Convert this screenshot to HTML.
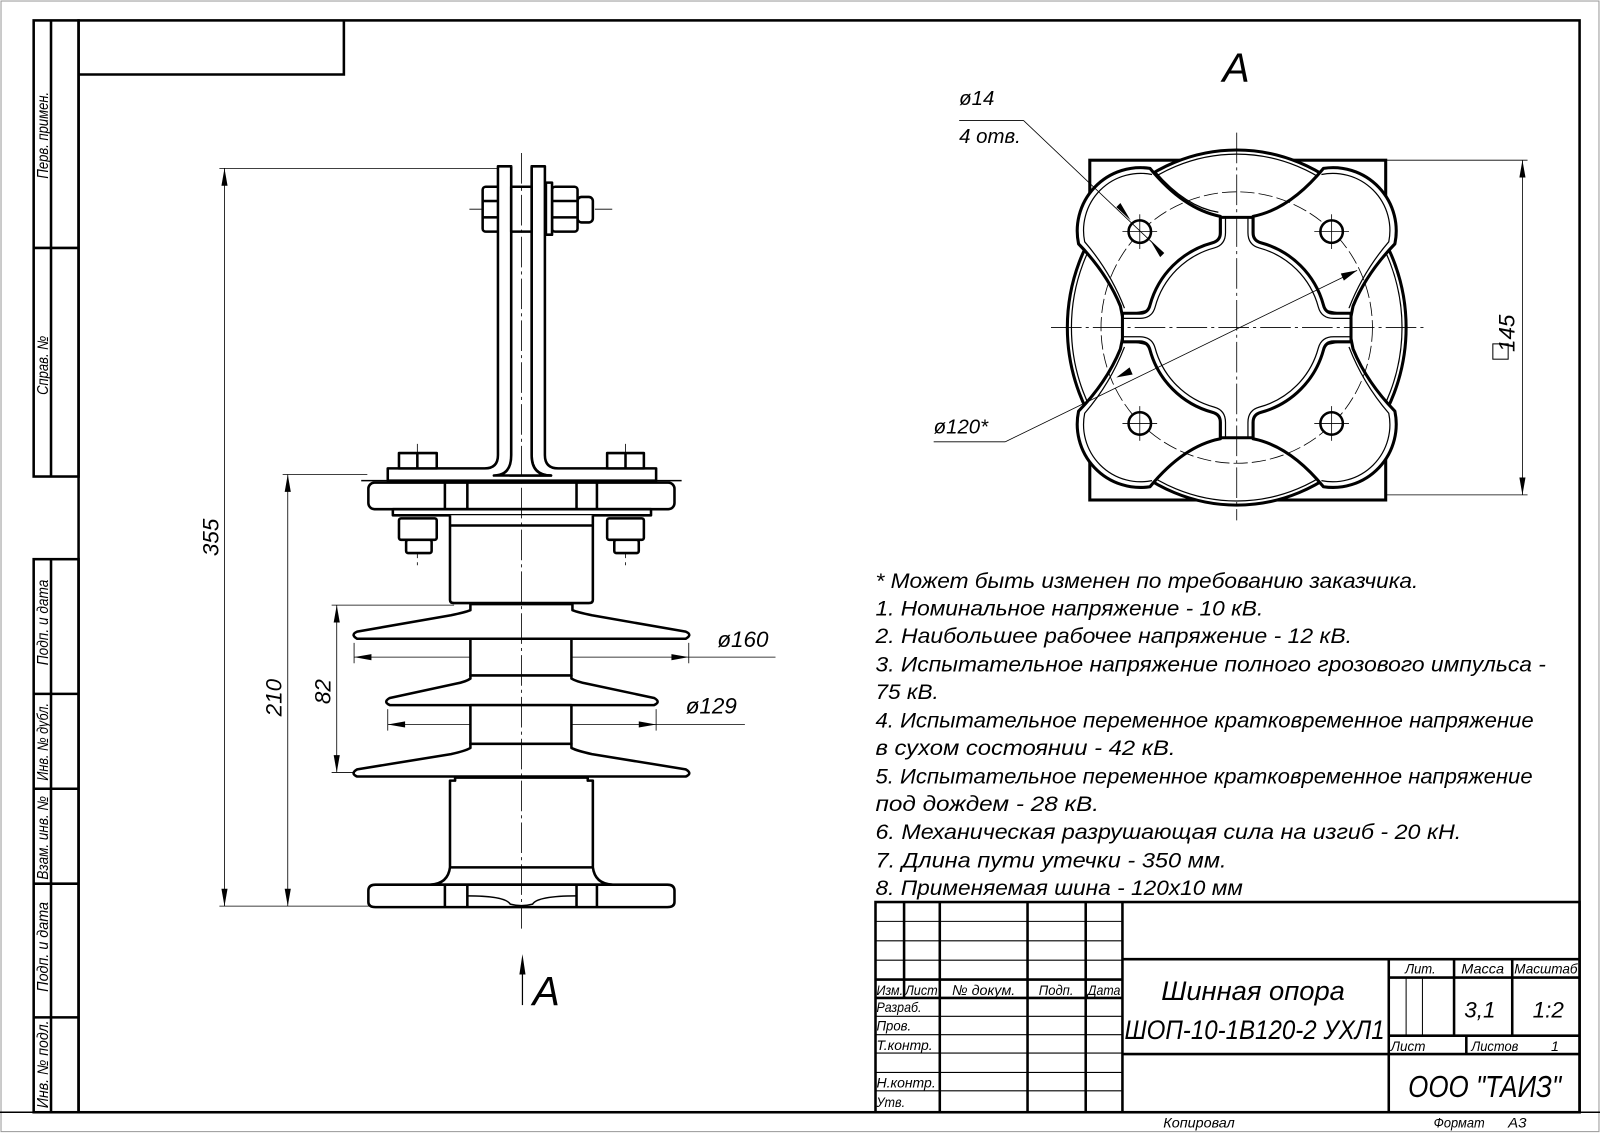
<!DOCTYPE html>
<html><head><meta charset="utf-8"><style>
html,body{margin:0;padding:0;background:#fff}
svg{display:block}
text{font-family:"Liberation Sans",sans-serif;font-style:italic;fill:#000}
</style></head><body>
<svg width="1600" height="1133" viewBox="0 0 1600 1133" xmlns="http://www.w3.org/2000/svg">
<rect x="0" y="0" width="1600" height="1133" fill="#fff"/>
<g transform="scale(1.0204)">
<rect x="1" y="1" width="1566" height="1108" fill="none" stroke="#999" stroke-width="1"/>
<!-- main frame -->
<g fill="none" stroke="#000" stroke-width="2.5">
<rect x="77" y="20" width="1471" height="1070"/>
<polyline points="77,73 337,73 337,20"/>
<rect x="33" y="20" width="44" height="447"/>
<line x1="50" y1="20" x2="50" y2="467"/>
<line x1="33" y1="243" x2="77" y2="243"/>
<rect x="33" y="548" width="44" height="542"/>
<line x1="50" y1="548" x2="50" y2="1090"/>
<line x1="33" y1="680" x2="77" y2="680"/>
<line x1="33" y1="773" x2="77" y2="773"/>
<line x1="33" y1="866" x2="77" y2="866"/>
<line x1="33" y1="997" x2="77" y2="997"/>
</g>
<g font-size="15">
<text transform="translate(47,175) rotate(-90)" textLength="85" lengthAdjust="spacingAndGlyphs">Перв. примен.</text>
<text transform="translate(47,387) rotate(-90)" textLength="58" lengthAdjust="spacingAndGlyphs">Справ. №</text>
<text transform="translate(47,652) rotate(-90)" textLength="84" lengthAdjust="spacingAndGlyphs">Подп. и дата</text>
<text transform="translate(47,765) rotate(-90)" textLength="76" lengthAdjust="spacingAndGlyphs">Инв. № дубл.</text>
<text transform="translate(47,862) rotate(-90)" textLength="82" lengthAdjust="spacingAndGlyphs">Взам. инв. №</text>
<text transform="translate(47,972) rotate(-90)" textLength="88" lengthAdjust="spacingAndGlyphs">Подп. и дата</text>
<text transform="translate(47,1086) rotate(-90)" textLength="86" lengthAdjust="spacingAndGlyphs">Инв. № подл.</text>
</g>

<!-- LEFT VIEW -->
<g fill="none" stroke="#000" stroke-width="0.8" stroke-dasharray="30,4,3,4">
<line x1="409" y1="435" x2="409" y2="555"/>
<line x1="613" y1="435" x2="613" y2="555"/>
<line x1="460" y1="205" x2="600" y2="205"/>
</g>
<g fill="none" stroke="#000" stroke-width="0.8">
<line x1="215" y1="165" x2="490" y2="165"/>
<line x1="215" y1="888" x2="366" y2="888"/>
<line x1="220" y1="165" x2="220" y2="888"/>
<line x1="277" y1="465" x2="360" y2="465"/>
<line x1="282" y1="465" x2="282" y2="888"/>
<line x1="325" y1="593" x2="445" y2="593"/>
<line x1="325" y1="757" x2="350" y2="757"/>
<line x1="330" y1="593" x2="330" y2="757"/>
<line x1="347" y1="630" x2="347" y2="650"/>
<line x1="675" y1="630" x2="675" y2="650"/>
<line x1="347" y1="644" x2="760" y2="644"/>
<line x1="380" y1="695" x2="380" y2="716"/>
<line x1="643" y1="695" x2="643" y2="716"/>
<line x1="380" y1="710" x2="730" y2="710"/>
</g>
<g fill="#000" stroke="none">
<polygon points="220,165 217,182 223,182"/><polygon points="220,888 217,871 223,871"/>
<polygon points="282,465 279,482 285,482"/><polygon points="282,888 279,871 285,871"/>
<polygon points="330,593 327,610 333,610"/><polygon points="330,757 327,740 333,740"/>
<polygon points="347,644 364,641 364,647"/><polygon points="675,644 658,641 658,647"/>
<polygon points="380,710 397,707 397,713"/><polygon points="643,710 626,707 626,713"/>
</g>
<g font-size="22">
<text transform="translate(214,545) rotate(-90)">355</text>
<text transform="translate(276,702) rotate(-90)">210</text>
<text transform="translate(324,690) rotate(-90)">82</text>
<text x="703" y="634">ø160</text>
<text x="672" y="699">ø129</text>
</g>
<g fill="#fff" stroke="#000" stroke-width="2.5" stroke-linejoin="round">
<rect x="473" y="183" width="28" height="44" rx="3"/>
<line x1="473" y1="197" x2="488" y2="197"/><line x1="473" y1="213" x2="488" y2="213"/>
<rect x="566" y="193" width="15" height="25" rx="4"/>
<rect x="541" y="183" width="25" height="44" rx="3"/>
<line x1="541" y1="197" x2="566" y2="197"/><line x1="541" y1="213" x2="566" y2="213"/>
<rect x="535" y="179" width="6" height="51"/>
<path d="M488,163 L488,446 Q488,459 475,459 L380,459 L380,471 L643,471 L643,459 L547,459 Q534,459 534,446 L534,163 L521,163 L521,446 Q521,466 540,466 L500,466 Q501,460 501,446 L501,163 Z"/>
<path d="M501,163 L501,446 Q501,466 484,466 L540,466 Q521,466 521,446 L521,163" fill="#fff"/>
<rect x="501" y="183" width="20" height="44"/>
<rect x="391" y="444" width="37" height="15"/><line x1="409" y1="444" x2="409" y2="459"/>
<rect x="595" y="444" width="36" height="15"/><line x1="613" y1="444" x2="613" y2="459"/>
<line x1="354" y1="471" x2="668" y2="471" stroke-width="1.5"/>
<rect x="361" y="473" width="300" height="26" rx="6"/>
<line x1="436" y1="473" x2="436" y2="499"/><line x1="458" y1="473" x2="458" y2="499"/>
<line x1="565" y1="473" x2="565" y2="499"/><line x1="585" y1="473" x2="585" y2="499"/>
<rect x="385" y="499" width="253" height="6"/>
<rect x="391" y="508" width="37" height="21" rx="2"/><rect x="398" y="529" width="25" height="13" rx="2"/>
<rect x="595" y="508" width="36" height="21" rx="2"/><rect x="602" y="529" width="24" height="13" rx="2"/>
<path d="M441,505 L441,588 Q441,591 445,591 L577,591 Q581,591 581,588 L581,505"/>
<line x1="441" y1="515" x2="581" y2="515"/>
<path d="M461,592 L561,592 L561,598 Q566,600 580,603 L672,619 Q679,622 672,626 L350,626 Q343,622 350,619 L442,603 Q456,600 461,598 Z"/>
<rect x="461" y="626" width="99" height="36"/>
<path d="M461,662 L560,662 L560,665 Q565,668 575,670 L641,684 Q648,688 641,691 L382,691 Q375,688 382,684 L447,670 Q457,668 461,665 Z"/>
<rect x="461" y="691" width="99" height="38"/>
<path d="M461,729 L560,729 L560,733 Q566,736 580,739 L672,754 Q679,758 672,761 L350,761 Q343,758 350,754 L442,739 Q456,736 461,733 Z"/>
<path d="M446,762 L576,762 L576,765 L581,765 L581,850 Q583,866 600,867 L422,867 Q439,866 441,850 L441,765 L446,765 Z"/>
<line x1="441" y1="850" x2="581" y2="850"/>
<path d="M361,873 Q361,867 368,867 L654,867 Q661,867 661,873 L661,884 Q661,889 654,889 L368,889 Q361,889 361,884 Z"/>
<line x1="436" y1="867" x2="436" y2="889"/><line x1="458" y1="867" x2="458" y2="889"/>
<line x1="565" y1="867" x2="565" y2="889"/><line x1="585" y1="867" x2="585" y2="889"/>
<path d="M458,878 Q495,878 500,886 Q511,889 522,886 Q527,878 565,878" fill="none" stroke-width="1.5"/>
</g>
<line x1="511" y1="150" x2="511" y2="910" stroke="#000" stroke-width="0.8" stroke-dasharray="30,4,3,4"/>
<line x1="512" y1="945" x2="512" y2="985" stroke="#000" stroke-width="1.2"/>
<polygon points="512,935 509,955 515,955" fill="#000"/>
<text x="522" y="985" font-size="40" font-style="normal">A</text>

<!-- RIGHT VIEW -->
<text x="1198" y="80" font-size="40" font-style="normal">A</text>
<g fill="none" stroke="#000" stroke-width="0.8">
<line x1="1358" y1="157" x2="1497" y2="157"/>
<line x1="1358" y1="485" x2="1497" y2="485"/>
<line x1="1492" y1="157" x2="1492" y2="485"/>
<line x1="940" y1="118" x2="1003" y2="118"/>
<line x1="915" y1="433" x2="985" y2="433"/>
</g>
<g fill="#000">
<polygon points="1492,157 1489,174 1495,174"/><polygon points="1492,485 1489,468 1495,468"/>
</g>
<text transform="translate(1484,345) rotate(-90)" font-size="22">145</text>
<rect x="1463" y="337" width="15" height="15" fill="none" stroke="#000" stroke-width="1"/>
<text x="940" y="103" font-size="20">ø14</text>
<text x="940" y="140" font-size="20">4 отв.</text>
<text x="915" y="425" font-size="20">ø120*</text>

<g fill="none" stroke="#000" stroke-width="3">
<rect x="1068" y="157" width="290" height="333" fill="#fff"/>
<ellipse cx="1212" cy="321" rx="166" ry="174" fill="#fff"/>
<ellipse cx="1212" cy="321" rx="162" ry="170" stroke-width="1.2"/>
</g>
<!-- lens inner arcs top/bottom -->
<g fill="none" stroke="#000" stroke-width="3">
<path d="M1194,212 Q1212,220 1230,212"/>
<path d="M1194,430 Q1212,422 1230,430"/>
</g>
<!-- corner lobes -->
<g id="lobe" fill="#fff" stroke="#000" stroke-width="3" stroke-linejoin="round">
<path d="M1127,165 A62,62 0 0 0 1057,239 Q1085,268 1098,300 L1100,310 L1150,300 L1196,240 L1196,212 Q1160,205 1127,165 Z"/>
<path d="M1129,171 A56,56 0 0 0 1063,237 Q1088,266 1102,302" fill="none" stroke-width="1.2"/>
<path d="M1132,168 Q1162,203 1194,208" fill="none" stroke-width="1.2"/>
</g>
<g transform="translate(2424,0) scale(-1,1)">
<path d="M1127,165 A62,62 0 0 0 1057,239 Q1085,268 1098,300 L1100,310 L1150,300 L1196,240 L1196,212 Q1160,205 1127,165 Z" fill="#fff" stroke="#000" stroke-width="3" stroke-linejoin="round"/>
<path d="M1129,171 A56,56 0 0 0 1063,237 Q1088,266 1102,302" fill="none" stroke="#000" stroke-width="1.2"/>
</g>
<g transform="translate(0,642) scale(1,-1)">
<path d="M1127,165 A62,62 0 0 0 1057,239 Q1085,268 1098,300 L1100,310 L1150,300 L1196,240 L1196,212 Q1160,205 1127,165 Z" fill="#fff" stroke="#000" stroke-width="3" stroke-linejoin="round"/>
<path d="M1129,171 A56,56 0 0 0 1063,237 Q1088,266 1102,302" fill="none" stroke="#000" stroke-width="1.2"/>
</g>
<g transform="translate(2424,642) scale(-1,-1)">
<path d="M1127,165 A62,62 0 0 0 1057,239 Q1085,268 1098,300 L1100,310 L1150,300 L1196,240 L1196,212 Q1160,205 1127,165 Z" fill="#fff" stroke="#000" stroke-width="3" stroke-linejoin="round"/>
<path d="M1129,171 A56,56 0 0 0 1063,237 Q1088,266 1102,302" fill="none" stroke="#000" stroke-width="1.2"/>
</g>
<!-- central region -->
<g fill="#fff" stroke="#000" stroke-width="3">
<path d="M1196,213 L1196,228 Q1196,236 1188,238 A87,87 0 0 0 1127,299 Q1125,307 1117,307 L1100,307 L1100,335 L1117,335 Q1125,335 1127,343 A87,87 0 0 0 1188,404 Q1196,406 1196,414 L1196,429 L1228,429 L1228,414 Q1228,406 1236,404 A87,87 0 0 0 1297,343 Q1299,335 1307,335 L1324,335 L1324,307 L1307,307 Q1299,307 1297,299 A87,87 0 0 0 1236,238 Q1228,236 1228,228 L1228,213 Z"/>
</g>
<g fill="none" stroke="#000" stroke-width="1.2">
<path d="M1201,213 L1201,228 Q1201,240 1190,243 A82,82 0 0 0 1132,301 Q1129,312 1117,312 L1100,312"/>
<path d="M1223,213 L1223,228 Q1223,240 1234,243 A82,82 0 0 1 1292,301 Q1295,312 1307,312 L1324,312"/>
<path d="M1201,429 L1201,414 Q1201,402 1190,399 A82,82 0 0 1 1132,341 Q1129,330 1117,330 L1100,330"/>
<path d="M1223,429 L1223,414 Q1223,402 1234,399 A82,82 0 0 0 1292,341 Q1295,330 1307,330 L1324,330"/>
<circle cx="1212" cy="321" r="133" stroke-dasharray="14,4" stroke-width="0.8"/>
</g>
<g fill="#fff" stroke="#000" stroke-width="2.5">
<circle cx="1117" cy="227" r="11"/><circle cx="1305" cy="227" r="11"/>
<circle cx="1117" cy="415" r="11"/><circle cx="1305" cy="415" r="11"/>
</g>
<g stroke="#000" stroke-width="0.8" stroke-dasharray="30,4,3,4">
<line x1="1212" y1="130" x2="1212" y2="510"/>
<line x1="1030" y1="321" x2="1395" y2="321"/>
</g>
<g stroke="#000" stroke-width="0.8">
<line x1="1100" y1="227" x2="1134" y2="227"/><line x1="1117" y1="210" x2="1117" y2="244"/>
<line x1="1288" y1="227" x2="1322" y2="227"/><line x1="1305" y1="210" x2="1305" y2="244"/>
<line x1="1100" y1="415" x2="1134" y2="415"/><line x1="1117" y1="398" x2="1117" y2="432"/>
<line x1="1288" y1="415" x2="1322" y2="415"/><line x1="1305" y1="398" x2="1305" y2="432"/>
<line x1="1003" y1="118" x2="1140" y2="248"/>
<line x1="985" y1="433" x2="1330" y2="265"/>
</g>
<g fill="#000">
<polygon points="1108,216 1094,203 1098,199"/><polygon points="1127,235 1141,248 1137,252"/>
<polygon points="1330,265 1314,268 1317,275"/><polygon points="1094,370 1110,367 1107,360"/>
</g>

<!-- NOTES -->
<g font-size="21">
<text x="858" y="576" textLength="532" lengthAdjust="spacingAndGlyphs">* Может быть изменен по требованию заказчика.</text>
<text x="858" y="603" textLength="380" lengthAdjust="spacingAndGlyphs">1. Номинальное напряжение - 10 кВ.</text>
<text x="858" y="630" textLength="467" lengthAdjust="spacingAndGlyphs">2. Наибольшее рабочее напряжение - 12 кВ.</text>
<text x="858" y="658" textLength="657" lengthAdjust="spacingAndGlyphs">3. Испытательное напряжение полного грозового импульса -</text>
<text x="858" y="685" textLength="62" lengthAdjust="spacingAndGlyphs">75 кВ.</text>
<text x="858" y="713" textLength="645" lengthAdjust="spacingAndGlyphs">4. Испытательное переменное кратковременное напряжение</text>
<text x="858" y="740" textLength="294" lengthAdjust="spacingAndGlyphs">в сухом состоянии - 42 кВ.</text>
<text x="858" y="768" textLength="644" lengthAdjust="spacingAndGlyphs">5. Испытательное переменное кратковременное напряжение</text>
<text x="858" y="795" textLength="219" lengthAdjust="spacingAndGlyphs">под дождем - 28 кВ.</text>
<text x="858" y="822" textLength="574" lengthAdjust="spacingAndGlyphs">6. Механическая разрушающая сила на изгиб - 20 кН.</text>
<text x="858" y="850" textLength="344" lengthAdjust="spacingAndGlyphs">7. Длина пути утечки - 350 мм.</text>
<text x="858" y="877" textLength="360" lengthAdjust="spacingAndGlyphs">8. Применяемая шина - 120х10 мм</text>
</g>

<!-- TITLE BLOCK -->
<g fill="none" stroke="#000">
<rect x="858" y="884" width="690" height="206" stroke-width="2.5"/>
<g stroke-width="2.5">
<line x1="886" y1="884" x2="886" y2="978"/>
<line x1="921" y1="884" x2="921" y2="1090"/>
<line x1="1007" y1="884" x2="1007" y2="1090"/>
<line x1="1064" y1="884" x2="1064" y2="1090"/>
<line x1="1100" y1="884" x2="1100" y2="1090"/>
<line x1="858" y1="960" x2="1100" y2="960"/>
<line x1="858" y1="978" x2="1100" y2="978"/>
<line x1="1100" y1="940" x2="1548" y2="940"/>
<line x1="1100" y1="1033" x2="1548" y2="1033"/>
<line x1="1361" y1="940" x2="1361" y2="1090"/>
<line x1="1425" y1="940" x2="1425" y2="1015"/>
<line x1="1482" y1="940" x2="1482" y2="1015"/>
<line x1="1361" y1="958" x2="1548" y2="958"/>
<line x1="1361" y1="1015" x2="1548" y2="1015"/>
<line x1="1437" y1="1015" x2="1437" y2="1033"/>
</g>
<g stroke-width="1">
<line x1="858" y1="903" x2="1100" y2="903"/>
<line x1="858" y1="922" x2="1100" y2="922"/>
<line x1="858" y1="941" x2="1100" y2="941"/>
<line x1="858" y1="996" x2="1100" y2="996"/>
<line x1="858" y1="1014" x2="1100" y2="1014"/>
<line x1="858" y1="1032" x2="1100" y2="1032"/>
<line x1="858" y1="1051" x2="1100" y2="1051"/>
<line x1="858" y1="1069" x2="1100" y2="1069"/>
<line x1="1378" y1="958" x2="1378" y2="1015"/>
<line x1="1394" y1="958" x2="1394" y2="1015"/>
</g>
<line x1="0" y1="1090" x2="1568" y2="1090" stroke-width="1.5"/>
</g>
<g font-size="14">
<text x="859" y="975" textLength="26" lengthAdjust="spacingAndGlyphs">Изм.</text>
<text x="887" y="975" textLength="32" lengthAdjust="spacingAndGlyphs">Лист</text>
<text x="933" y="975" textLength="62" lengthAdjust="spacingAndGlyphs">№ докум.</text>
<text x="1018" y="975" textLength="34" lengthAdjust="spacingAndGlyphs">Подп.</text>
<text x="1066" y="975" textLength="32" lengthAdjust="spacingAndGlyphs">Дата</text>
<text x="859" y="992" textLength="44" lengthAdjust="spacingAndGlyphs">Разраб.</text>
<text x="859" y="1010" textLength="34" lengthAdjust="spacingAndGlyphs">Пров.</text>
<text x="859" y="1029" textLength="55" lengthAdjust="spacingAndGlyphs">Т.контр.</text>
<text x="859" y="1066" textLength="58" lengthAdjust="spacingAndGlyphs">Н.контр.</text>
<text x="859" y="1085" textLength="28" lengthAdjust="spacingAndGlyphs">Утв.</text>
<text x="1377" y="954" textLength="30" lengthAdjust="spacingAndGlyphs">Лит.</text>
<text x="1432" y="954" textLength="42" lengthAdjust="spacingAndGlyphs">Масса</text>
<text x="1484" y="954" textLength="62" lengthAdjust="spacingAndGlyphs">Масштаб</text>
<text x="1363" y="1030" textLength="34" lengthAdjust="spacingAndGlyphs">Лист</text>
<text x="1442" y="1030" textLength="46" lengthAdjust="spacingAndGlyphs">Листов</text>
<text x="1520" y="1030">1</text>
<text x="1140" y="1105" textLength="70" lengthAdjust="spacingAndGlyphs">Копировал</text>
<text x="1405" y="1105" textLength="50" lengthAdjust="spacingAndGlyphs">Формат</text>
<text x="1478" y="1105" textLength="18" lengthAdjust="spacingAndGlyphs">А3</text>
</g>
<g font-size="26">
<text x="1138" y="980" textLength="180" lengthAdjust="spacingAndGlyphs">Шинная опора</text>
<text x="1102" y="1018" textLength="255" lengthAdjust="spacingAndGlyphs">ШОП-10-1В120-2 УХЛ1</text>
<text x="1435" y="997" font-size="22">3,1</text>
<text x="1502" y="997" font-size="22">1:2</text>
<text x="1380" y="1075" textLength="150" lengthAdjust="spacingAndGlyphs" font-size="30">ООО "ТАИЗ"</text>
</g>
</g>
</svg>
</body></html>
